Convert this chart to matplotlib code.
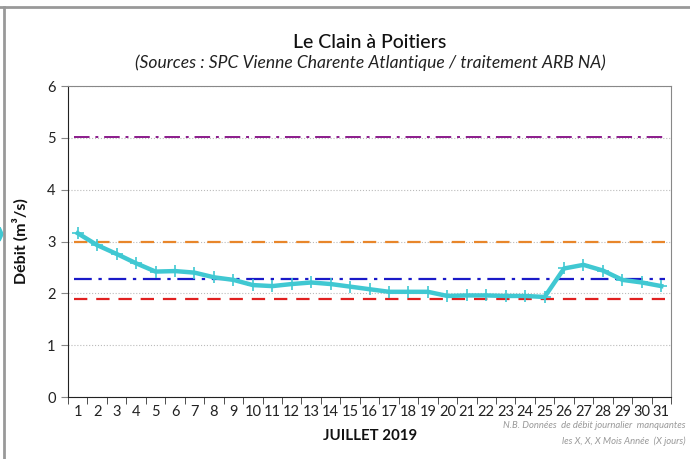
import matplotlib
matplotlib.use("Agg")
import matplotlib.pyplot as plt
from matplotlib.lines import Line2D
from matplotlib.patches import Polygon

plt.rcParams["font.family"] = ["Lato", "DejaVu Sans"]

# daily flow, July 2019
days = list(range(1, 32))
debit = [3.16, 2.93, 2.76, 2.58, 2.42, 2.43, 2.40, 2.31, 2.26, 2.16,
         2.14, 2.18, 2.21, 2.18, 2.13, 2.08, 2.03, 2.03, 2.03, 1.95,
         1.96, 1.96, 1.95, 1.95, 1.93, 2.48, 2.55, 2.44, 2.26, 2.21, 2.14]

# threshold levels
seuil_violet = 5.02
seuil_orange = 3.0
seuil_bleu = 2.27
seuil_rouge = 1.9

fig = plt.figure(figsize=(6.9, 4.59), dpi=100)
ax = fig.add_axes([0.0986, 0.135, 0.8739, 0.6776])

x = list(range(len(days)))
n = len(days)

ax.plot([-0.2, n - 0.8], [seuil_violet] * 2, color="#8B1A8B", lw=1.4, dashes=(8, 3, 1.5, 3))
ax.plot([-0.2, n - 0.8], [seuil_orange] * 2, color="#E8862A", lw=1.6, dashes=(6, 4))
ax.plot([-0.2, n - 0.8], [seuil_bleu] * 2, color="#1A1AC8", lw=1.6, dashes=(8, 3, 1.5, 3))
ax.plot([-0.2, n - 0.8], [seuil_rouge] * 2, color="#E02020", lw=1.6, dashes=(6, 4))

ax.plot(x, debit, color="#40C8D2", lw=3.2, marker="+", ms=8, mew=1.2, zorder=5)

ax.set_xlim(-0.5, n - 0.5)
ax.set_ylim(0, 6)
ax.set_yticks(range(0, 7))
ax.yaxis.grid(True, color="#BBBBBB", ls=":", lw=0.8)
ax.set_axisbelow(True)

ax.set_xticks(x)
ax.set_xticklabels([str(d) for d in days])
ax.set_xticks([i - 0.5 for i in range(n + 1)], minor=True)
ax.tick_params(axis="x", which="major", length=0, pad=6, labelsize=10.5, colors="#222222")
ax.tick_params(axis="x", which="minor", length=5, color="#333333", direction="out")
ax.tick_params(axis="y", length=5, color="#888888", labelsize=10.5, labelcolor="#222222", pad=4)

ax.spines["left"].set_color("#222222")
ax.spines["bottom"].set_color("#222222")
ax.spines["top"].set_color("#888888")
ax.spines["right"].set_color("#888888")

ax.set_ylabel("Débit (m³/s)", fontsize=11.5, fontweight="bold", labelpad=13, color="#111111")

fig.text(0.536, 0.907, "Le Clain à Poitiers", ha="center", va="center",
         fontsize=14, fontweight="medium", color="#111111")
fig.text(0.537, 0.864, "(Sources : SPC Vienne Charente Atlantique / traitement ARB NA)",
         ha="center", va="center", fontsize=12.6, style="italic", color="#222222")
fig.text(0.536, 0.051, "JUILLET 2019", ha="center", va="center",
         fontsize=10.8, fontweight="bold", color="#111111")
fig.text(0.994, 0.074, "N.B. Données  de débit journalier  manquantes",
         ha="right", va="center", fontsize=6.8, style="italic", color="#999999")
fig.text(0.994, 0.039, "les X, X, X Mois Année  (X jours)",
         ha="right", va="center", fontsize=6.8, style="italic", color="#999999")

# outer frame
fig.add_artist(Line2D([0, 1], [0.984, 0.984], transform=fig.transFigure, color="#999999", lw=2))
fig.add_artist(Line2D([0.006, 0.006], [0, 0.984], transform=fig.transFigure, color="#999999", lw=2))
fig.add_artist(Polygon([[0, 0.505], [0.0045, 0.49], [0, 0.475]], closed=True,
                       transform=fig.transFigure, color="#40C8D2"))

fig.savefig("out.png", dpi=100)
